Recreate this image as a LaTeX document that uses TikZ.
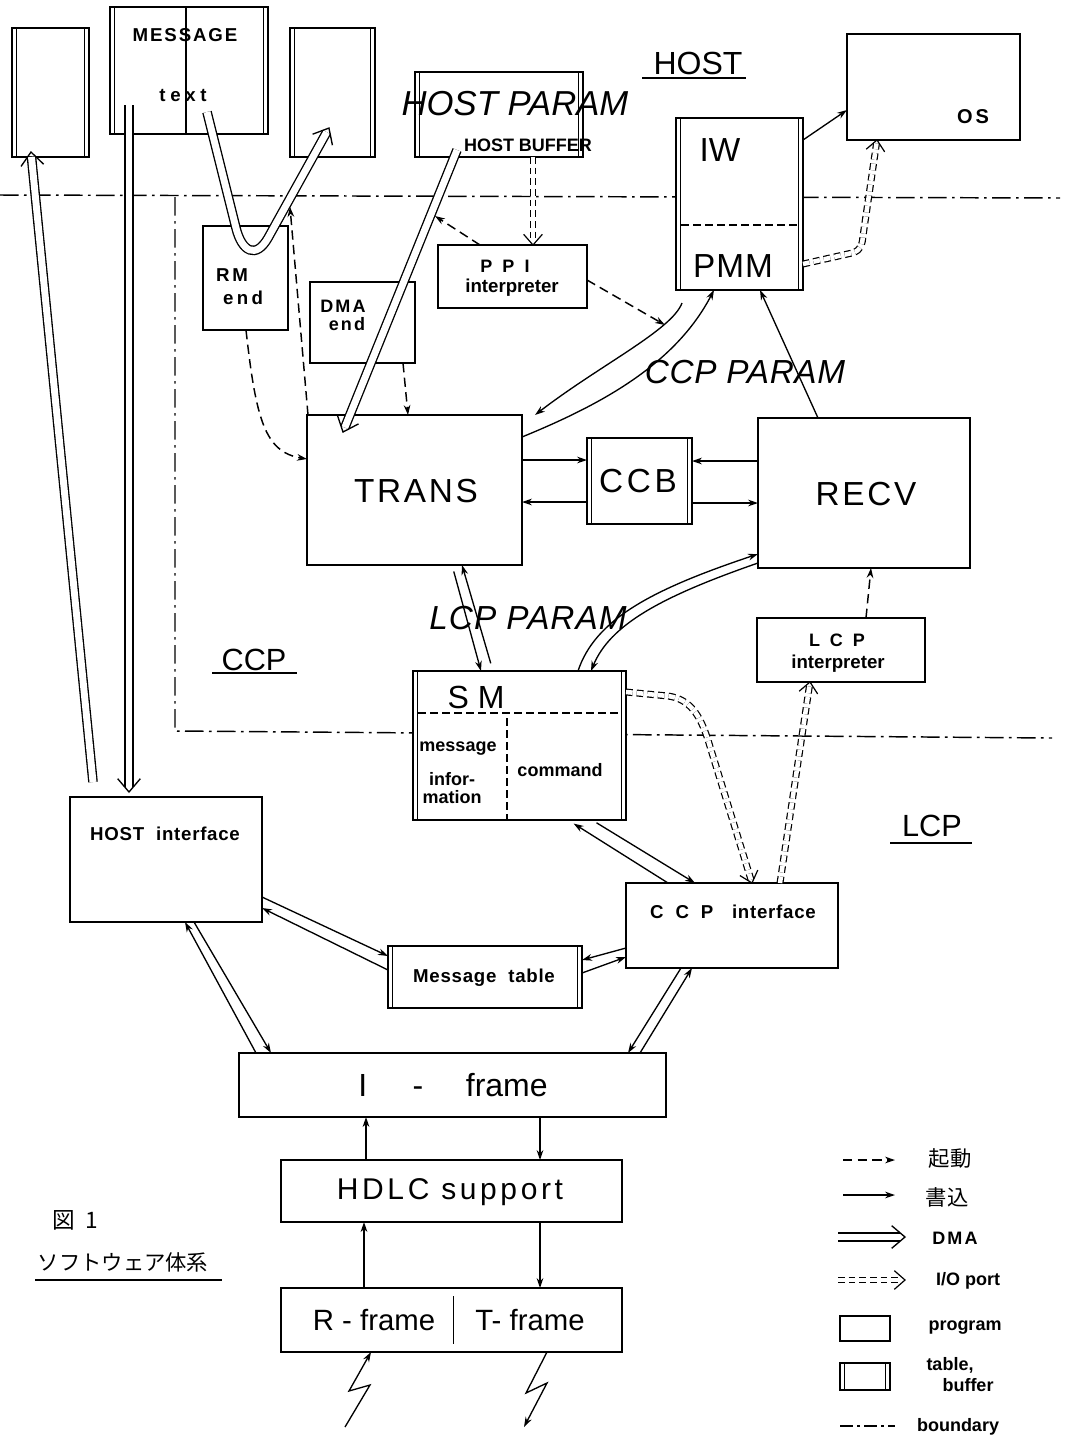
\documentclass[tikz,border=0pt]{standalone}
\usepackage{fontspec}
\setmainfont{Liberation Sans}
\newfontfamily\jp{Noto Sans CJK JP}
\usetikzlibrary{arrows.meta,decorations.markings}
\newcommand\ls[1]{\addfontfeatures{LetterSpace=#1}}
\newcommand\fs[1]{\fontsize{#1}{#1}\selectfont}
\newcommand\bx[6]{\node[#1,minimum width={(#4-#2)*0.75pt},minimum height={(#5-#3)*0.75pt}] (#6) at ({(#2+#4)/2},{(#3+#5)/2}) {};}
\newcommand\dmaarrow[1]{\draw[dmaline] #1; \path[dmahead] #1;}
\newcommand\ioarrow[1]{\draw[ioline] #1; \path[iohead] #1;}
\tikzset{
  prog/.style={draw, fill=white, line width=1.1pt, inner sep=0pt, outer sep=0pt},
  tabl/.style={prog, path picture={
     \draw[line width=0.8pt] ([xshift=3.5pt]path picture bounding box.north west) -- ([xshift=3.5pt]path picture bounding box.south west)
       ([xshift=-3.5pt]path picture bounding box.north east) -- ([xshift=-3.5pt]path picture bounding box.south east);}},
  wr/.style={line width=1pt, -{Stealth[length=7.5pt,width=5pt]}},
  act/.style={wr, line width=1.1pt, dash pattern=on 7pt off 4pt},
  dmaline/.style={double, double distance=5.2pt, line width=1pt, shorten >=3.6pt},
  dmahead/.style={decoration={markings, mark=at position 1 with {\draw[line width=1pt, line join=miter] (-10pt,8.5pt) -- (0pt,0pt) -- (-10pt,-8.5pt);}}, postaction={decorate}},
  ioline/.style={double, double distance=3.4pt, line width=0.9pt, dash pattern=on 5pt off 3pt, shorten >=2.6pt},
  iohead/.style={decoration={markings, mark=at position 1 with {\draw[line width=0.9pt, line join=miter] (-8pt,7pt) -- (0pt,0pt) -- (-8pt,-7pt);}}, postaction={decorate}},
  bnd/.style={line width=1.1pt, dash pattern=on 14pt off 4pt on 2pt off 4pt},
  inl/.style={line width=1pt, dash pattern=on 6pt off 3pt},
  lbl/.style={inner sep=0pt}
}
\begin{document}
\begin{tikzpicture}[x=0.75pt,y=-0.75pt]
\fill[white] (0,0) rectangle (1067,1436);
\useasboundingbox (0,0) rectangle (1067,1436);

% boundaries
\draw[bnd] (0,195) -- (1060,198);
\draw[bnd] (175,197) -- (175,731) -- (1052,738);

% boxes
\bx{tabl}{12}{28}{89}{157}{b1}
\bx{tabl}{110}{7}{268}{134}{msg}
\bx{tabl}{290}{28}{375}{157}{b3}
\bx{tabl}{415}{72}{583}{157}{hbuf}
\bx{prog}{847}{34}{1020}{140}{os}
\bx{tabl}{676}{118}{803}{290}{iw}
\bx{prog}{438}{245}{587}{308}{ppi}
\bx{prog}{203}{226}{288}{330}{rm}
\bx{prog}{310}{282}{415}{363}{dmae}
\bx{prog}{307}{415}{522}{565}{trans}
\bx{tabl}{587}{438}{692}{524}{ccb}
\bx{prog}{758}{418}{970}{568}{recv}
\bx{prog}{757}{618}{925}{682}{lcpi}
\bx{tabl}{413}{671}{626}{820}{sm}
\bx{prog}{70}{797}{262}{922}{hostif}
\bx{prog}{626}{883}{838}{968}{ccpif}
\bx{tabl}{388}{946}{582}{1008}{mtab}
\bx{prog}{239}{1053}{666}{1117}{iframe}
\bx{prog}{281}{1160}{622}{1222}{hdlc}
\bx{prog}{281}{1288}{622}{1352}{rtf}
\bx{prog}{840}{1316}{890}{1341}{lprog}
\bx{tabl}{840}{1363}{890}{1390}{ltab}

% inner lines
\draw[line width=0.8pt] (186,0 |- msg.north) -- (186,0 |- msg.south);
\draw[inl, shorten <=4pt, shorten >=4pt] (iw.west |- 0,225) -- (iw.east |- 0,225);
\draw[inl, shorten <=4pt, shorten >=4pt] (sm.west |- 0,713) -- (sm.east |- 0,713);
\draw[inl] (507,718) -- (507,0 |- sm.south);
\draw[line width=0.7pt, shorten <=6pt, shorten >=6pt] (453,0 |- rtf.north) -- (453,0 |- rtf.south);

% named free ends
\coordinate (d1s) at (93,782);
\coordinate (d1e) at (31,152);
\coordinate (d2s) at (129,105);
\coordinate (d2e) at (129,792);
\coordinate (d3s) at (207,112);
\coordinate (d3e) at (329,128);
\coordinate (d4s) at (457,150);
\coordinate (d4e) at (343,432);
\coordinate (hitd4) at (435,216);
\coordinate (hitd3) at (290,207);
\coordinate (ccpa) at (682,303);
\coordinate (hitccpa) at (665,325);

% DMA
\dmaarrow{(d1s) -- (d1e)}
\dmaarrow{(d2s) -- (d2e)}
\dmaarrow{(d3s) -- (236,228) .. controls (242,252) and (256,259) .. (268,238) -- (d3e)}
\dmaarrow{(d4s) -- (d4e)}

% I/O port
\ioarrow{(533,0 |- hbuf.south) -- (533,0 |- ppi.north)}
\ioarrow{(iw.east |- 0,264) -- (852,253) .. controls (862,250) and (862,244) .. (863,236) -- (877,0 |- os.south)}
\ioarrow{(sm.east |- 0,692) -- (668,696) .. controls (690,699) and (700,715) .. (708,740) -- (752,0 |- ccpif.north)}
\ioarrow{(780,0 |- ccpif.north) -- (810,0 |- lcpi.south)}

% activation (dashed)
\draw[act] (480,0 |- ppi.north) -- (hitd4);
\draw[act] (ppi.east |- 0,280) -- (hitccpa);
\draw[act] (246,0 |- rm.south) .. controls (256,420) and (265,452) .. (trans.west |- 0,459);
\draw[act] (308,0 |- trans.north) -- (hitd3);
\draw[act] (403,0 |- dmae.south) -- (408,0 |- trans.north);
\draw[act] (866,0 |- lcpi.north) -- (871,0 |- recv.south);

% write arrows
\draw[wr] (iw.east |- 0,140) -- (os.west |- 0,110);
\draw[wr] (818,0 |- recv.north) -- (760,0 |- iw.south);
\draw[wr] (ccpa) .. controls (672,330) and (600,365) .. (535,0 |- trans.north);
\draw[wr] (trans.east |- 0,437) .. controls (600,405) and (675,365) .. (714,0 |- iw.south);
\draw[wr] (trans.east |- 0,460) -- (ccb.west |- 0,460);
\draw[wr] (ccb.west |- 0,502) -- (trans.east |- 0,502);
\draw[wr] (recv.west |- 0,461) -- (ccb.east |- 0,461);
\draw[wr] (ccb.east |- 0,503) -- (recv.west |- 0,503);
\draw[wr, shorten <=5pt] (452,0 |- trans.south) -- (481,0 |- sm.north);
\draw[wr, shorten <=6pt] (493,0 |- sm.north) -- (462,0 |- trans.south);
\draw[wr] (578,0 |- sm.north) .. controls (595,620) and (650,590) .. (recv.west |- 0,554);
\draw[wr] (recv.west |- 0,563) .. controls (660,597) and (610,625) .. (591,0 |- sm.north);
\draw[wr, shorten >=5pt] (668,0 |- ccpif.north) -- (568,0 |- sm.south);
\draw[wr, shorten <=4pt] (592,0 |- sm.south) -- (695,0 |- ccpif.north);
\draw[wr] (hostif.east |- 0,897) -- (mtab.west |- 0,956);
\draw[wr] (mtab.west |- 0,970) -- (hostif.east |- 0,908);
\draw[wr] (ccpif.west |- 0,948) -- (mtab.east |- 0,960);
\draw[wr] (mtab.east |- 0,973) -- (ccpif.west |- 0,957);
\draw[wr] (256,0 |- iframe.north) -- (185,0 |- hostif.south);
\draw[wr] (194,0 |- hostif.south) -- (271,0 |- iframe.north);
\draw[wr] (640,0 |- iframe.north) -- (692,0 |- ccpif.south);
\draw[wr] (681,0 |- ccpif.south) -- (628,0 |- iframe.north);
\draw[wr] (366,0 |- hdlc.north) -- (366,0 |- iframe.south);
\draw[wr] (540,0 |- iframe.south) -- (540,0 |- hdlc.north);
\draw[wr] (364,0 |- rtf.north) -- (364,0 |- hdlc.south);
\draw[wr] (540,0 |- hdlc.south) -- (540,0 |- rtf.north);
\draw[wr] (345,1427) -- (370,1385) -- (349,1391) -- (371,0 |- rtf.south);
\draw[wr] (547,0 |- rtf.south) -- (526,1393) -- (547,1383) -- (524,1427);

% underlines
\draw[line width=1.2pt] (642,78) -- (746,78);
\draw[line width=1.2pt] (212,673) -- (297,673);
\draw[line width=1.2pt] (890,843) -- (972,843);
\draw[line width=1pt] (35,1280) -- (222,1280);

% texts
\node[lbl] (tmsg) at (185,35) {\bfseries\fs{14}\ls{10}MESSAGE};
\node[lbl] (ttext) at (183,95) {\bfseries\fs{14}\ls{25}text};
\node[lbl] (thp) at (515,104) {\itshape\fs{26}HOST PARAM};
\node[lbl] (thb) at (528,145) {\bfseries\fs{13.5}HOST BUFFER};
\node[lbl] (thost) at (698,63) {\fs{24}HOST};
\node[lbl] (tos) at (973,117) {\bfseries\fs{15}\ls{15}OS};
\node[lbl] (tiw) at (720,150) {\fs{25}IW};
\node[lbl] (tpmm) at (733,266) {\fs{25}\ls{3}PMM};
\node[lbl] (tppi) at (505,266) {\bfseries\fs{13.5}P\ \ P\ \ I};
\node[lbl] (tppi2) at (512,288) {\bfseries\fs{14}interpreter};
\node[lbl] (trm) at (232,275) {\bfseries\fs{14}\ls{15}RM};
\node[lbl] (trm2) at (243,298) {\bfseries\fs{14}\ls{18}end};
\node[lbl] (tdma) at (343,306) {\bfseries\fs{13.5}\ls{12}DMA};
\node[lbl] (tdma2) at (347,324) {\bfseries\fs{13.5}\ls{12}end};
\node[lbl] (ttrans) at (416,491) {\fs{25}\ls{8}TRANS};
\node[lbl] (tccb) at (638,481) {\fs{25}\ls{11}CCB};
\node[lbl] (trecv) at (866,494) {\fs{25}\ls{8}RECV};
\node[lbl] (tccpp) at (745,372) {\itshape\fs{25}\ls{2}CCP PARAM};
\node[lbl] (tlcpp) at (528,618) {\itshape\fs{25}\ls{3}LCP PARAM};
\node[lbl] (tccp) at (254,660) {\fs{23}CCP};
\node[lbl] (tlcpi) at (837,640) {\bfseries\fs{13.5}L\ \ C\ \ P};
\node[lbl] (tlcpi2) at (838,664) {\bfseries\fs{14}interpreter};
\node[lbl] (tsm) at (476,697) {\fs{24}S M};
\node[lbl] (tsm1) at (458,749) {\bfseries\fs{13.5}message};
\node[lbl] (tsm2) at (452,779) {\bfseries\fs{13.5}infor-};
\node[lbl] (tsm3) at (452,797) {\bfseries\fs{13.5}mation};
\node[lbl] (tsm4) at (560,770) {\bfseries\fs{13.5}command};
\node[lbl] (tlcp) at (932,826) {\fs{23}LCP};
\node[lbl] (thif) at (165,834) {\bfseries\fs{14}\ls{4}HOST\ \ interface};
\node[lbl] (tcif) at (733,912) {\bfseries\fs{14}\ls{4}C\ \ C\ \ P\quad interface};
\node[lbl] (tmtab) at (484,978) {\bfseries\fs{14}\ls{4}Message\ \ table};
\node[lbl] (tif) at (453,1085) {\fs{24}I\hspace{34pt}-\hspace{32pt}frame};
\node[lbl] (thdlc) at (450,1192) {\fs{22.5}\ls{12}HDLC support};
\node[lbl] (trf) at (374,1320) {\fs{22}R - frame};
\node[lbl] (ttf) at (530,1320) {\fs{22}T- frame};
\node[lbl] (tfig) at (75,1220) {\jp\fs{17}図\ \ 1};
\node[lbl] (tfig2) at (123,1262) {\jp\fs{16}ソフトウェア体系};

% legend
\coordinate (la1) at (843,1160); \coordinate (la2) at (895,1160);
\coordinate (lb1) at (843,1195); \coordinate (lb2) at (895,1195);
\coordinate (lc1) at (838,1237); \coordinate (lc2) at (905,1237);
\coordinate (ld1) at (838,1280); \coordinate (ld2) at (905,1280);
\coordinate (le1) at (840,1426); \coordinate (le2) at (895,1426);
\draw[act] (la1) -- (la2);
\draw[wr] (lb1) -- (lb2);
\dmaarrow{(lc1) -- (lc2)}
\ioarrow{(ld1) -- (ld2)}
\draw[bnd, dash pattern=on 10pt off 3pt on 2pt off 3pt] (le1) -- (le2);
\node[lbl] (tl1) at (950,1158) {\jp\fs{16}起動};
\node[lbl] (tl2) at (947,1197) {\jp\fs{16}書込};
\node[lbl] (tl3) at (955,1238) {\bfseries\fs{13.5}\ls{12}DMA};
\node[lbl] (tl4) at (968,1281) {\bfseries\fs{13.5}I/O port};
\node[lbl] (tl5) at (965,1328) {\bfseries\fs{13.5}program};
\node[lbl] (tl6) at (950,1365) {\bfseries\fs{13.5}table,};
\node[lbl] (tl7) at (968,1385) {\bfseries\fs{13.5}buffer};
\node[lbl] (tl8) at (958,1427) {\bfseries\fs{13.5}boundary};
\end{tikzpicture}
\end{document}
